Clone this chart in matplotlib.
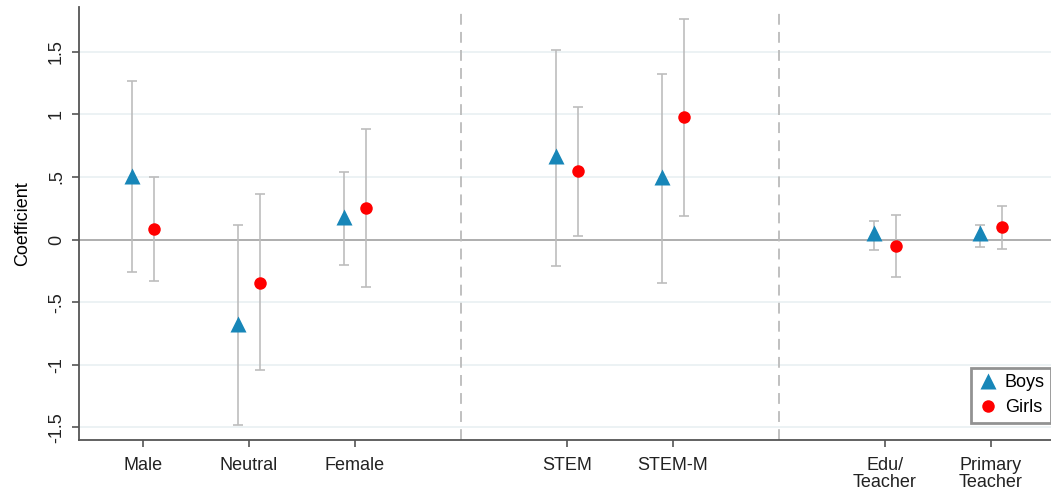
import matplotlib
matplotlib.use("Agg")
import matplotlib.pyplot as plt
import numpy as np

plt.rcParams['font.family'] = ['Liberation Sans', 'DejaVu Sans']

categories = ["Male", "Neutral", "Female", "STEM", "STEM-M", "Edu/\nTeacher", "Primary\nTeacher"]
positions = [1, 2, 3, 5, 6, 8, 9]
separators = [4, 7]

boys_coef = [0.51, -0.67, 0.18, 0.67, 0.50, 0.05, 0.05]
boys_lo = [-0.255, -1.48, -0.20, -0.21, -0.345, -0.085, -0.06]
boys_hi = [1.27, 0.12, 0.54, 1.51, 1.32, 0.146, 0.12]

girls_coef = [0.085, -0.345, 0.25, 0.545, 0.975, -0.053, 0.10]
girls_lo = [-0.33, -1.04, -0.377, 0.03, 0.19, -0.30, -0.075]
girls_hi = [0.50, 0.367, 0.88, 1.06, 1.76, 0.20, 0.27]

yticks = [-1.5, -1, -0.5, 0, 0.5, 1, 1.5]
ytick_labels = ["-1.5", "-1", "-.5", "0", ".5", "1", "1.5"]

W, H = 1051, 492
fig = plt.figure(figsize=(W / 100, H / 100), dpi=100)
ax = fig.add_axes([79 / W, 1 - 440 / H, 1 - 79 / W, (440 - 7) / H])

blue = '#1786B8'
red = '#FF0000'
ci_col = '#BDBDBD'

for y in yticks:
    if y != 0:
        ax.axhline(y, color='#EAF1F3', lw=1.3, zorder=0)
ax.axhline(0, color='#A8A8A8', lw=1.3, zorder=1)
for s in separators:
    ax.axvline(s, color='#BBBBBB', lw=1.3, ls=(0, (6, 4)), zorder=1)

pos = np.array(positions, dtype=float)
bc = np.array(boys_coef); gc = np.array(girls_coef)
ax.errorbar(pos - 0.1, bc, yerr=[bc - np.array(boys_lo), np.array(boys_hi) - bc],
            fmt='none', ecolor=ci_col, elinewidth=1.2, capsize=3.6, capthick=1.2, zorder=2)
ax.errorbar(pos + 0.1, gc, yerr=[gc - np.array(girls_lo), np.array(girls_hi) - gc],
            fmt='none', ecolor=ci_col, elinewidth=1.2, capsize=3.6, capthick=1.2, zorder=2)
ax.plot(pos - 0.1, bc, '^', color=blue, ms=12, mec='none', zorder=3, label='Boys')
ax.plot(pos + 0.1, gc, 'o', color=red, ms=9, mec='none', zorder=3, label='Girls')

ax.set_xlim(0.396, 9.566)
ax.set_ylim(-1.6, 1.857)
ax.set_xticks(positions)
ax.set_xticklabels(categories, fontsize=13, linespacing=1.05)
ax.set_yticks(yticks)
ax.set_yticklabels(ytick_labels, fontsize=13, rotation=90, va='center')
ax.set_ylabel("Coefficient", fontsize=13, labelpad=12)

for side in ['top', 'right']:
    ax.spines[side].set_visible(False)
for side in ['left', 'bottom']:
    ax.spines[side].set_color('#555555')
    ax.spines[side].set_linewidth(1.3)
ax.tick_params(axis='both', direction='out', length=5, width=1.2, color='#555555', labelcolor='#222222')
ax.tick_params(axis='x', pad=7)
ax.tick_params(axis='y', pad=5)

leg = ax.legend(loc='lower right', bbox_to_anchor=(1.0, 0.04), fontsize=13, frameon=True,
                fancybox=False, handletextpad=0.4, borderpad=0.35, labelspacing=0.45,
                handlelength=1.1, borderaxespad=0.0)
leg.get_frame().set_edgecolor('#777777')
leg.get_frame().set_linewidth(2)

fig.savefig('out.png', dpi=100)
